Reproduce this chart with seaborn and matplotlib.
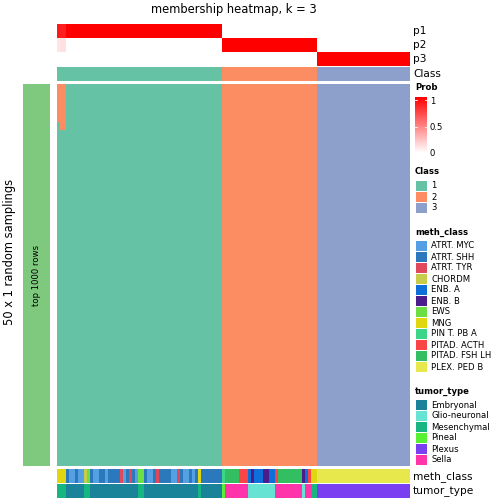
import numpy as np
import seaborn as sns
import matplotlib.pyplot as plt
from matplotlib.colors import ListedColormap, LinearSegmentedColormap
from matplotlib.patches import Rectangle

# samples as ordered in the picture
class_sizes = [55, 32, 31]
n_samplings = 50
# first samples of class 1 that went to class 2 in some samplings
switched = [5, 6, 6]

class_names = ["1", "2", "3"]
class_colors = ["#66C2A5", "#FC8D62", "#8DA0CB"]

meth_names = ["ATRT. MYC", "ATRT. SHH", "ATRT. TYR", "CHORDM", "ENB. A", "ENB. B",
              "EWS", "MNG", "PIN T. PB A", "PITAD. ACTH", "PITAD. FSH LH", "PLEX. PED B"]
meth_colors = ["#559FE3", "#2C78BD", "#DE4A5B", "#C8CC4B", "#0E6FD9", "#4B1C8B",
               "#6CDF42", "#E0D710", "#3DD689", "#F94545", "#33BE62", "#E6E84C"]

tumor_names = ["Embryonal", "Glio-neuronal", "Mesenchymal", "Pineal", "Plexus", "Sella"]
tumor_colors = ["#1B8399", "#66E3D2", "#17B581", "#58F033", "#7B3FF2", "#FF33AA"]

meth_runs = [
    ("MNG", 3), ("ATRT. SHH", 1), ("ATRT. MYC", 2), ("ATRT. SHH", 1), ("ATRT. MYC", 2),
    ("CHORDM", 1), ("EWS", 1), ("ATRT. SHH", 1), ("ATRT. MYC", 2), ("ATRT. SHH", 2),
    ("ATRT. MYC", 1), ("ATRT. SHH", 4), ("ATRT. TYR", 1), ("ATRT. MYC", 1), ("ATRT. SHH", 1),
    ("ATRT. TYR", 1), ("ATRT. SHH", 1), ("ATRT. MYC", 1), ("EWS", 2), ("ATRT. SHH", 1),
    ("ATRT. MYC", 2), ("ATRT. SHH", 1), ("ATRT. TYR", 1), ("ATRT. SHH", 4), ("ATRT. MYC", 2),
    ("ATRT. TYR", 1), ("ATRT. SHH", 1), ("ATRT. MYC", 2), ("ATRT. SHH", 1), ("ATRT. MYC", 1),
    ("ATRT. SHH", 1), ("MNG", 1), ("ATRT. SHH", 7),
    ("PIN T. PB A", 1), ("PITAD. FSH LH", 5), ("PITAD. ACTH", 3), ("ENB. A", 1), ("ENB. B", 1),
    ("ENB. A", 3), ("ENB. B", 2), ("ENB. A", 2), ("PITAD. ACTH", 1), ("PITAD. FSH LH", 8),
    ("ENB. B", 1), ("ENB. A", 1), ("PITAD. ACTH", 1), ("MNG", 2),
    ("PLEX. PED B", 31),
]
tumor_runs = [
    ("Mesenchymal", 3), ("Embryonal", 6), ("Mesenchymal", 2), ("Embryonal", 16),
    ("Mesenchymal", 2), ("Embryonal", 18), ("Mesenchymal", 1), ("Embryonal", 7),
    ("Pineal", 1), ("Sella", 8), ("Glio-neuronal", 9), ("Sella", 9), ("Glio-neuronal", 1),
    ("Sella", 2), ("Mesenchymal", 2),
    ("Plexus", 31),
]


def expand(runs, names):
    out = []
    for name, n in runs:
        out += [names.index(name)] * n
    return np.array(out)


classes = np.repeat([1, 2, 3], class_sizes)
n = len(classes)
n_other = np.zeros(n, dtype=int)
n_other[:len(switched)] = switched

# membership matrix: rows = samplings, sorted so the other class is on top
member = np.tile(classes, (n_samplings, 1))
for j in range(n):
    member[:n_other[j], j] = 2
probs = np.array([(member == k).mean(axis=0) for k in (1, 2, 3)])

meth = expand(meth_runs, meth_names)
tumor = expand(tumor_runs, tumor_names)

W = H = 504
fig = plt.figure(figsize=(7, 7), dpi=72)


def px_axes(x0, y0, x1, y1):
    return fig.add_axes([x0 / W, 1 - y1 / H, (x1 - x0) / W, (y1 - y0) / H])


def strip(ax, data, cmap, vmin, vmax):
    sns.heatmap(data, cmap=cmap, vmin=vmin, vmax=vmax, cbar=False,
                xticklabels=False, yticklabels=False, ax=ax)
    ax.set_xlabel("")
    ax.set_ylabel("")


prob_cmap = LinearSegmentedColormap.from_list("prob", ["#FFFFFF", "#FF0000"])
X0, X1 = 57, 410

strip(px_axes(X0, 24, X1, 66), probs, prob_cmap, 0, 1)
strip(px_axes(X0, 67, X1, 81), classes[None, :], ListedColormap(class_colors), 0.5, 3.5)
strip(px_axes(X0, 84, X1, 466), member, ListedColormap(class_colors), 0.5, 3.5)
strip(px_axes(X0, 469, X1, 483), meth[None, :], ListedColormap(meth_colors), -0.5, 11.5)
strip(px_axes(X0, 484, X1, 498), tumor[None, :], ListedColormap(tumor_colors), -0.5, 5.5)

left = px_axes(23, 84, 50, 466)
left.set_facecolor("#7FC97F")
left.set_xticks([])
left.set_yticks([])
for s in left.spines.values():
    s.set_visible(False)
left.text(0.5, 0.5, "top 1000 rows", rotation=90, ha="center", va="center",
          fontsize=8.5, transform=left.transAxes)

# overlay in pixel coordinates for labels and legends
ov = fig.add_axes([0, 0, 1, 1])
ov.patch.set_alpha(0)
grad = np.linspace(1, 0, 100)[:, None]
ov.imshow(grad, cmap=prob_cmap, vmin=0, vmax=1, aspect="auto", extent=[415, 427, 153, 97])
ov.set_xlim(0, W)
ov.set_ylim(H, 0)
ov.axis("off")

ov.text(233.5, 10, "membership heatmap, k = 3", ha="center", va="center", fontsize=11.5)
ov.text(10, 252, "50 x 1 random samplings", rotation=90, ha="center", va="center", fontsize=11.5)

for label, y in [("p1", 31), ("p2", 45), ("p3", 59), ("Class", 74),
                 ("meth_class", 477), ("tumor_type", 492)]:
    ov.text(413, y, label, ha="left", va="center", fontsize=10.5)

fs = 8.5
ov.text(415, 87, "Prob", ha="left", va="center", fontsize=fs, fontweight="bold")
for v, lab in [(1, "1"), (0.5, "0.5"), (0, "0")]:
    y = 153 - v * 53
    ov.plot([415, 417], [y, y], color="white", lw=0.8)
    ov.plot([425, 427], [y, y], color="white", lw=0.8)
    ov.text(430, y + 1, lab, ha="left", va="center", fontsize=fs)


def legend(title, names, colors, y0):
    ov.text(415, y0, title, ha="left", va="center", fontsize=fs, fontweight="bold")
    for i, (nm, c) in enumerate(zip(names, colors)):
        y = y0 + 14 + i * 11
        ov.add_patch(Rectangle((416, y - 5), 10.5, 10, facecolor=c, edgecolor="none"))
        ov.text(431, y, nm, ha="left", va="center", fontsize=fs)


legend("Class", class_names, class_colors, 172)
legend("meth_class", meth_names, meth_colors, 232)
legend("tumor_type", tumor_names, tumor_colors, 391)

fig.savefig("out.png", dpi=72)
